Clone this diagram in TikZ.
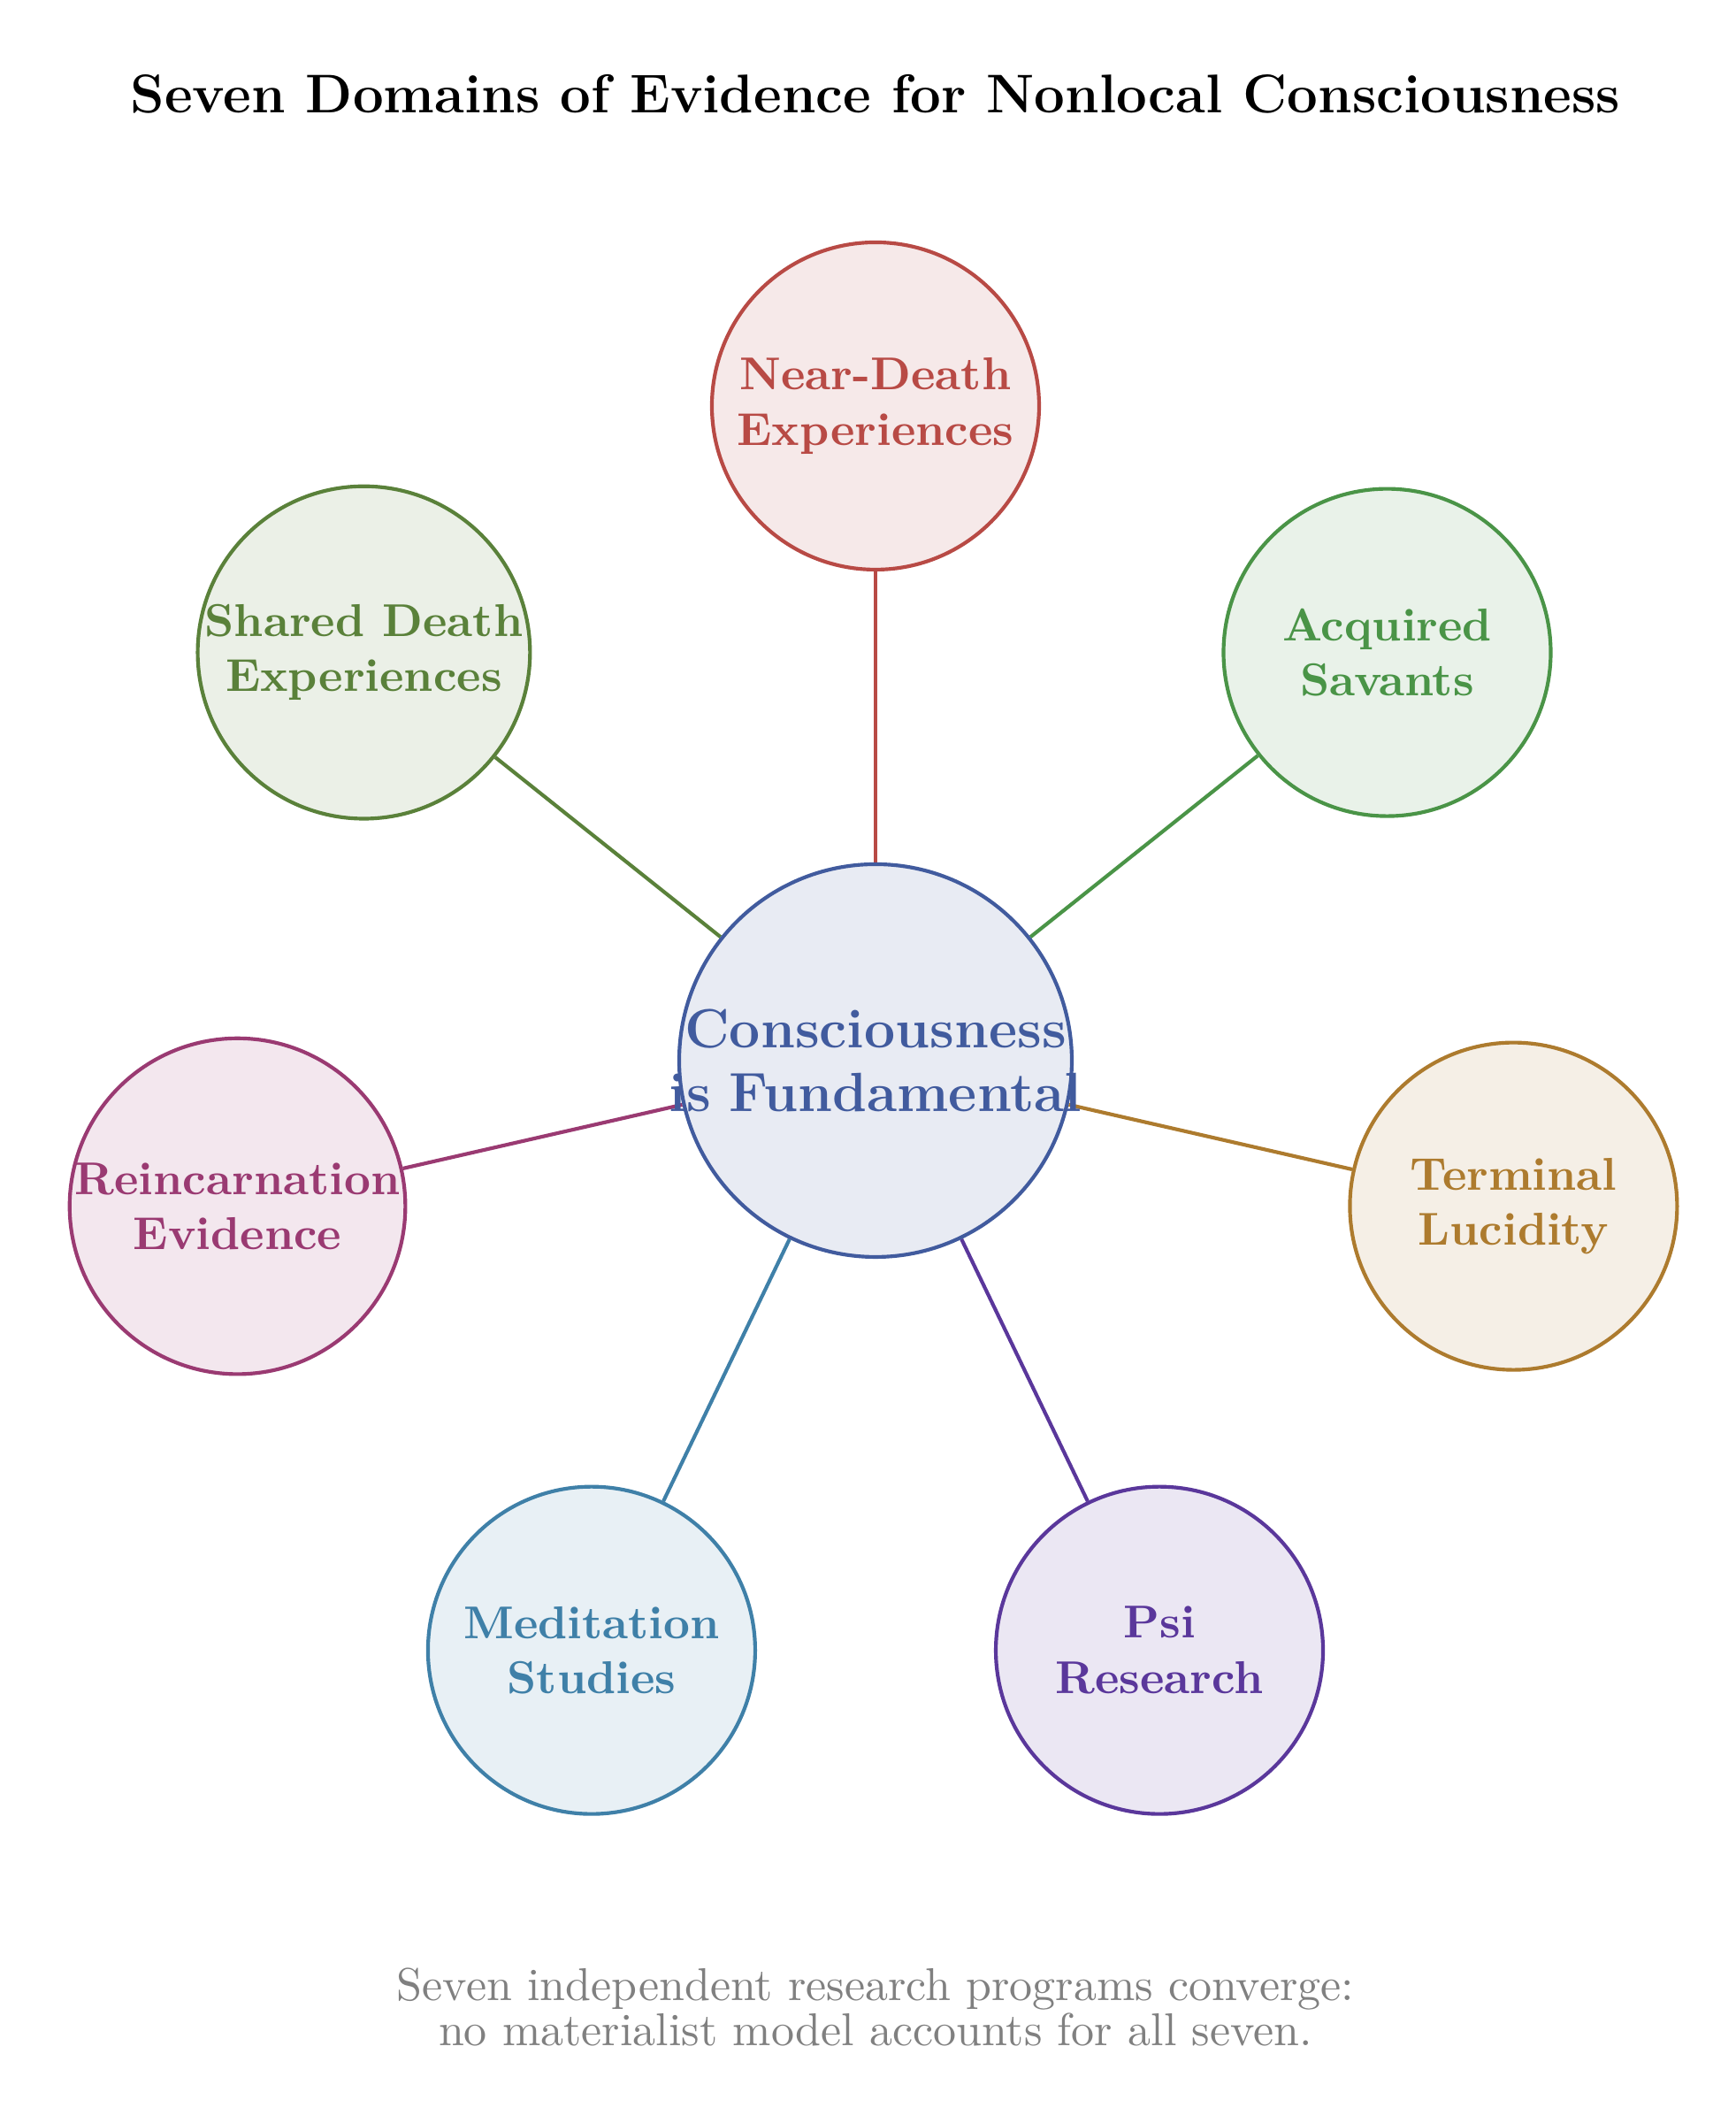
\documentclass[tikz,border=0pt]{standalone}
\usetikzlibrary{backgrounds}
\definecolor{cmain}{HTML}{415B9E}
\definecolor{cred}{HTML}{B84A45}
\definecolor{cgreen}{HTML}{4A9447}
\definecolor{colive}{HTML}{5A813A}
\definecolor{cgold}{HTML}{AD7B2E}
\definecolor{cpurple}{HTML}{5A379B}
\definecolor{cteal}{HTML}{3F80A8}
\definecolor{cmag}{HTML}{9A3A72}
\definecolor{cnote}{HTML}{808080}
\tikzset{
  domain/.style={circle, draw=#1, fill=#1!12, text=#1, line width=0.8pt,
    minimum size=2.5cm, inner sep=0pt, align=center, font=\bfseries},
  hub/.style={circle, draw=cmain, fill=cmain!12, text=cmain, line width=0.8pt,
    minimum size=3cm, inner sep=0pt, align=center, text width=2cm, font=\large\bfseries},
  link/.style={draw=#1, line width=0.8pt},
}
\begin{document}
\begin{tikzpicture}
\useasboundingbox (0,0) rectangle (13.257,16.216);
\node[font=\fontsize{11.85}{14}\selectfont\bfseries, anchor=base] (title) at (6.689,15.352) {Seven Domains of Evidence for Nonlocal Consciousness};
\begin{scope}[shift={(6.689,8.115)}]
\node[hub] (c) at (0,0) {\makebox[0pt]{Consciousness}\\\makebox[0pt]{is Fundamental}};
\node[domain=cred] (nde) at (90:5) {Near-Death\\Experiences};
\node[domain=cgreen] (sav) at (38.571:5) {Acquired\\Savants};
\node[domain=cgold] (tl) at (-12.857:5) {Terminal\\Lucidity};
\node[domain=cpurple] (psi) at (-64.286:5) {Psi\\Research};
\node[domain=cteal] (med) at (-115.714:5) {Meditation\\Studies};
\node[domain=cmag] (rei) at (-167.143:5) {Reincarnation\\Evidence};
\node[domain=colive] (sde) at (141.429:5) {Shared Death\\Experiences};
\end{scope}
\begin{pgfonlayer}{background}
\draw[link=cred] (c) -- (nde);
\draw[link=cgreen] (c) -- (sav);
\draw[link=cgold] (c) -- (tl);
\draw[link=cpurple] (c) -- (psi);
\draw[link=cteal] (c) -- (med);
\draw[link=cmag] (c) -- (rei);
\draw[link=colive] (c) -- (sde);
\end{pgfonlayer}
\node[font=\normalsize, text=cnote, align=center] (note) at (6.689,0.885) {Seven independent research programs converge:\\[-2.2pt]no materialist model accounts for all seven.};
\end{tikzpicture}
\end{document}
